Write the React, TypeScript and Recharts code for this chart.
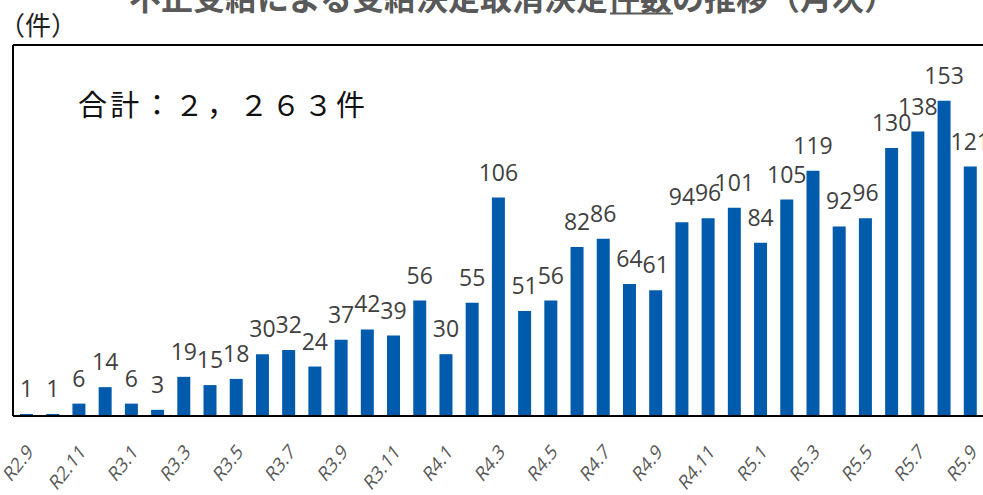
import React from 'react';
import { BarChart, Bar, XAxis, YAxis, LabelList, ReferenceLine } from 'recharts';

// 月次の件数（R2.9〜R5.9）
const months = [
  'R2.9', 'R2.10', 'R2.11', 'R2.12',
  'R3.1', 'R3.2', 'R3.3', 'R3.4', 'R3.5', 'R3.6', 'R3.7', 'R3.8', 'R3.9', 'R3.10', 'R3.11', 'R3.12',
  'R4.1', 'R4.2', 'R4.3', 'R4.4', 'R4.5', 'R4.6', 'R4.7', 'R4.8', 'R4.9', 'R4.10', 'R4.11', 'R4.12',
  'R5.1', 'R5.2', 'R5.3', 'R5.4', 'R5.5', 'R5.6', 'R5.7', 'R5.8', 'R5.9',
];
const counts = [
  1, 1, 6, 14,
  6, 3, 19, 15, 18, 30, 32, 24, 37, 42, 39, 56,
  30, 55, 106, 51, 56, 82, 86, 64, 61, 94, 96, 101,
  84, 105, 119, 92, 96, 130, 138, 153, 121,
];
const title = '不正受給による受給決定取消決定件数の推移（月次）';
const unitLabel = '（件）';
const totalLabel = '合計：２，２６３件';

const data = months.map((m, i) => ({ month: m, count: counts[i] }));

const BAR_COLOR = '#005BAC';
const TEXT_GRAY = '#595959';

// 元画像は横方向に少し縮んでいるので、斜めラベルも横に縮めて合わせる
const renderMonthTick = (props: any) => {
  const { x, payload, index } = props;
  return (
    <g key={`tick-${index}`} transform={`translate(${x + 8},453) scale(0.78,1) rotate(-45)`}>
      <text
        x={0}
        y={0}
        textAnchor="end"
        fill={TEXT_GRAY}
        fontSize={21}
        fontFamily="'Open Sans', sans-serif"
      >
        {payload.value}
      </text>
    </g>
  );
};

export default function App() {
  return (
    <div style={{ position: 'absolute', left: 0, top: 0, width: 983, height: 495, background: '#fff' }}>
      <BarChart
        width={983}
        height={495}
        data={data}
        margin={{ top: 45, right: 0, bottom: 0, left: 12 }}
        barSize={13}
      >
        <XAxis
          dataKey="month"
          height={79}
          interval={1}
          tickLine={false}
          axisLine={{ stroke: '#000', strokeWidth: 2 }}
          tick={renderMonthTick}
        />
        <YAxis
          width={1}
          domain={[0, 180]}
          tick={false}
          tickLine={false}
          axisLine={{ stroke: '#000', strokeWidth: 2 }}
        />
        <ReferenceLine y={180} stroke="#000" strokeWidth={2} />
        <Bar dataKey="count" fill={BAR_COLOR} isAnimationActive={false}>
          <LabelList
            dataKey="count"
            position="top"
            offset={17}
            fill="#404040"
            fontSize={23}
            fontFamily="'Open Sans', sans-serif"
          />
        </Bar>
      </BarChart>
      <svg
        width={983}
        height={495}
        style={{ position: 'absolute', left: 0, top: 0, pointerEvents: 'none' }}
      >
        <text
          x={129}
          y={10}
          fontSize={32}
          fontWeight="bold"
          fill={TEXT_GRAY}
          fontFamily="'Noto Sans CJK JP', sans-serif"
        >
          {title}
        </text>
        <line x1={610} x2={673} y1={13.5} y2={13.5} stroke={TEXT_GRAY} strokeWidth={2} />
        <text x={-1} y={35} fontSize={26} fill="#222" fontFamily="'Noto Sans CJK JP', sans-serif">
          {unitLabel}
        </text>
        <text
          x={78}
          y={116}
          fontSize={29}
          fill="#111"
          textLength={287}
          lengthAdjust="spacing"
          fontFamily="'Noto Sans CJK JP', sans-serif"
        >
          {totalLabel}
        </text>
      </svg>
    </div>
  );
}
